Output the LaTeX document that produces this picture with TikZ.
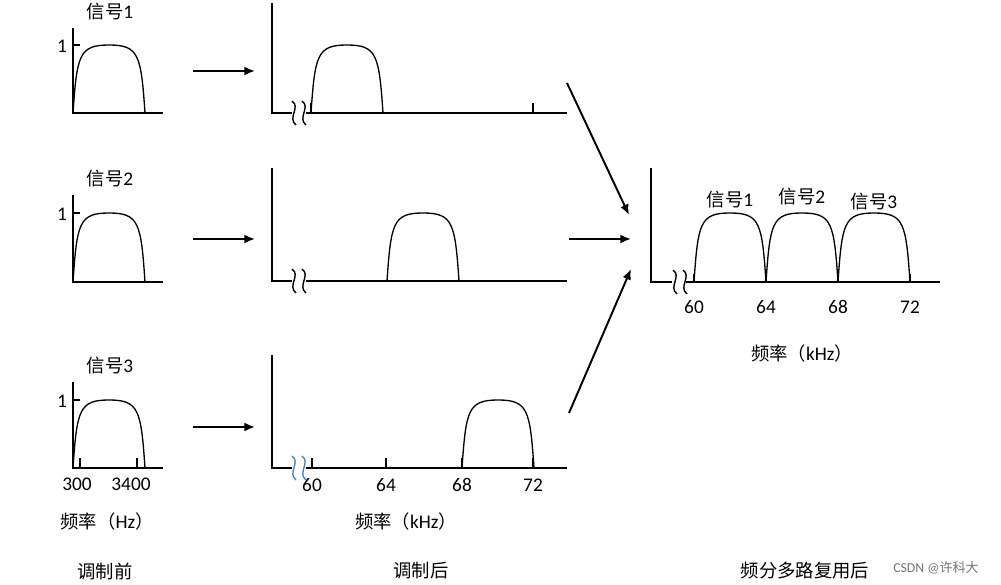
\documentclass[tikz,border=0pt]{standalone}
\usepackage{fontspec}
\setmainfont{Carlito}
\newfontfamily\cjk[Scale=0.95]{Noto Sans CJK SC}
\usepackage{tikz}
\usetikzlibrary{arrows.meta}
\definecolor{brkblue}{RGB}{84,130,186}

\newcommand{\bump}[3]{%
  \draw[sig] (#1,#2) .. controls (#1+4,#3+10) and (#1+6,#3) .. (#1+36,#3)
    .. controls (#1+66,#3) and (#1+68,#3+10) .. (#1+72,#2);}
\newcommand{\squig}[3]{%
  \draw[#3,line width=0.8pt] (#1-2,#2-12) .. controls (#1+7,#2-6) and (#1-7,#2+5) .. (#1+2,#2+12);}

\begin{document}
\begin{tikzpicture}[x=0.02cm, y=-0.02cm,
    axln/.style={line width=1.1pt},
    sig/.style={line width=0.75pt},
    arr/.style={line width=1.1pt, -{Latex[length=6pt,width=5pt]}},
    lab/.style={font=\fontsize{11}{13}\selectfont, inner sep=1pt}]
  \useasboundingbox (0,0) rectangle (1001,585);

  % before modulation
  \foreach \i/\yb/\yt/\ya in {1/113/45/28, 2/282/213/195, 3/468/400/382} {
    \draw[axln] (73,\ya) -- (73,\yb) -- (163,\yb);
    \draw[axln] (73,\yt) -- (80,\yt);
    \bump{73}{\yb}{\yt}
    \node[lab] (one\i) at (62,\yt+1) {1};
    \node[lab] (sig\i) at (110,\ya-16) {{\cjk 信号}\i};
  }
  \foreach \x in {80, 137} \draw[axln] (\x,468) -- (\x,458);
  \node[lab] (f300) at (77,484) {300};
  \node[lab] (f3400) at (131,484) {3400};
  \node[lab] (hz) at (107,522) {{\cjk 频率（}Hz{\cjk ）}};
  \node[lab] (before) at (105,571) {\cjk 调制前};

  % after modulation
  \foreach \yb/\ya in {113/3, 281/168, 468/355} {
    \draw[axln] (272,\ya) -- (272,\yb) -- (292,\yb);
    \draw[axln] (306,\yb) -- (567,\yb);
  }
  \squig{294}{113}{black} \squig{304}{113}{black}
  \squig{294}{281}{black} \squig{304}{281}{black}
  \squig{294}{468}{brkblue} \squig{304}{468}{brkblue}
  \bump{311}{113}{45}
  \bump{387}{281}{213}
  \bump{462}{468}{400}
  \foreach \x in {311, 533} \draw[axln] (\x,113) -- (\x,103);
  \foreach \x/\f in {312/60, 386/64, 462/68, 533/72} {
    \draw[axln] (\x,468) -- (\x,458);
    \node[lab] (m\f) at (\x,485) {\f};
  }
  \node[lab] (khz) at (406,522) {{\cjk 频率（}kHz{\cjk ）}};
  \node[lab] (after) at (421,571) {\cjk 调制后};

  % multiplexed
  \draw[axln] (651,168) -- (651,282) -- (672,282);
  \draw[axln] (686,282) -- (940,282);
  \squig{675}{282}{black} \squig{685}{282}{black}
  \foreach \x/\i/\dy in {694/1/200, 766/2/197, 838/3/202} {
    \bump{\x}{282}{213}
    \node[lab] (msig\i) at (\x+36,\dy) {{\cjk 信号}\i};
  }
  \foreach \x/\f in {694/60, 766/64, 838/68, 910/72} {
    \draw[sig] (\x,282) -- (\x,274);
    \node[lab] (r\f) at (\x,307) {\f};
  }
  \node[lab] (khz2) at (802,354) {{\cjk 频率（}kHz{\cjk ）}};
  \node[lab] (mux) at (805,571) {\cjk 频分多路复用后};
  \node[lab, font=\fontsize{7.8}{9}\selectfont, text=black!55] (mark) at (936,568) {CSDN @{\cjk 许科大}};

  % arrows
  \foreach \i/\y in {1/71, 2/239, 3/427} {
    \coordinate (a\i) at (193,\y);
    \coordinate (b\i) at (255,\y);
    \draw[arr] (a\i) -- (b\i);
  }
  \coordinate (c1) at (567,83);  \coordinate (d1) at (629,215);
  \coordinate (c2) at (569,239); \coordinate (d2) at (631,239);
  \coordinate (c3) at (569,413); \coordinate (d3) at (631,269);
  \foreach \i in {1,2,3} \draw[arr] (c\i) -- (d\i);
\end{tikzpicture}
\end{document}
